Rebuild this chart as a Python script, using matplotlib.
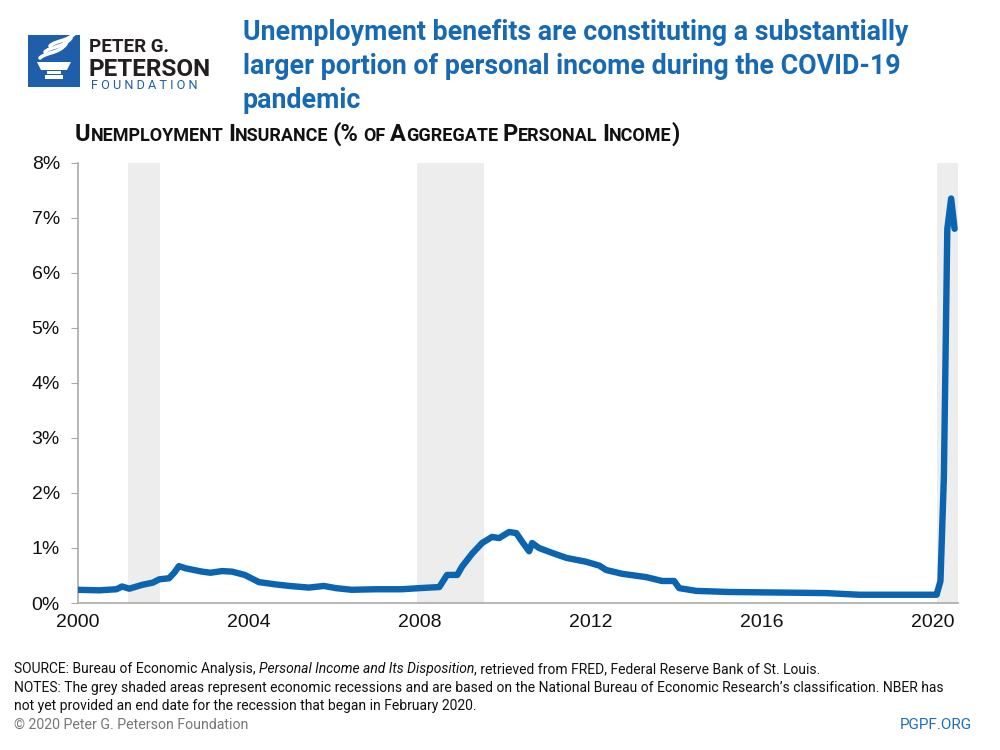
import numpy as np
import matplotlib.pyplot as plt
from matplotlib.patches import Rectangle, Polygon, PathPatch
from matplotlib.path import Path

# Unemployment insurance as % of aggregate personal income
years = [2000.0, 2000.5, 2000.9, 2001.03, 2001.2, 2001.5, 2001.75, 2001.9,
         2002.13, 2002.25, 2002.36, 2002.52, 2002.9, 2003.1, 2003.37, 2003.6,
         2003.9, 2004.23, 2004.6, 2004.94, 2005.4, 2005.75, 2006.03, 2006.4,
         2006.97, 2007.58, 2007.98, 2008.45, 2008.63, 2008.87, 2008.98, 2009.22,
         2009.45, 2009.68, 2009.85, 2010.08, 2010.25, 2010.39, 2010.55, 2010.62,
         2010.78, 2011.09, 2011.42, 2011.88, 2012.19, 2012.35, 2012.73, 2013.29,
         2013.66, 2013.94, 2014.06, 2014.46, 2015.23, 2016.4, 2017.5, 2018.27,
         2019.04, 2020.0, 2020.08, 2020.17, 2020.25, 2020.33, 2020.42, 2020.5]
ui_share = [0.24, 0.23, 0.25, 0.30, 0.26, 0.33, 0.37, 0.43,
            0.45, 0.55, 0.67, 0.63, 0.57, 0.55, 0.58, 0.57,
            0.51, 0.38, 0.34, 0.31, 0.28, 0.31, 0.27, 0.24,
            0.25, 0.25, 0.27, 0.29, 0.51, 0.51, 0.66, 0.90,
            1.09, 1.20, 1.18, 1.29, 1.27, 1.11, 0.94, 1.09,
            1.00, 0.91, 0.82, 0.75, 0.68, 0.60, 0.53, 0.47,
            0.40, 0.40, 0.27, 0.22, 0.20, 0.19, 0.18, 0.15,
            0.15, 0.15, 0.15, 0.40, 2.30, 6.80, 7.35, 6.80]

recession_starts = [2001.17, 2007.92, 2020.08]
recession_ends = [2001.92, 2009.50, 2020.60]

x_ticks = [2000, 2004, 2008, 2012, 2016, 2020]
y_ticks = [0, 1, 2, 3, 4, 5, 6, 7, 8]

title_lines = ["Unemployment benefits are constituting a substantially",
               "larger portion of personal income during the COVID-19",
               "pandemic"]
subtitle = "Unemployment Insurance (% of Aggregate Personal Income)"

BLUE = '#0b64b0'
TITLE_BLUE = '#1769b3'
LOGO_BLUE = '#1f5fa9'

fig = plt.figure(figsize=(10, 7.5), dpi=100)
renderer = fig.canvas.get_renderer()

# overlay in pixel coordinates for logo and texts
deco = fig.add_axes([0, 0, 1, 1])
deco.set_xlim(0, 1000)
deco.set_ylim(750, 0)
deco.axis('off')

# logo
deco.add_patch(Rectangle((28, 35), 52, 52, color=LOGO_BLUE, lw=0))
deco.add_patch(Polygon([(37, 62), (71, 62), (67, 70), (41, 70)], color='white', lw=0))
deco.add_patch(Rectangle((47, 71), 14, 3, color='white', lw=0))
deco.add_patch(Rectangle((45, 75), 18, 4, color='white', lw=0))
for dx, dy in [(0, 0), (5, -6), (10, -12)]:
    verts = [(40 + dx, 58 + dy), (46 + dx, 52 + dy), (58 + dx, 54 + dy), (66 + dx, 44 + dy)]
    deco.add_patch(PathPatch(Path(verts, [Path.MOVETO, Path.CURVE4, Path.CURVE4, Path.CURVE4]),
                             fill=False, ec='white', lw=2.6, capstyle='round'))
deco.text(89, 52, "PETER G.", fontsize=13.5, fontweight='bold', family='Roboto',
          color='#231f20', va='baseline')
deco.text(88, 76, "PETERSON", fontsize=17.5, fontweight='bold', family='Roboto',
          color='#231f20', va='baseline')
deco.text(91, 89, "F O U N D A T I O N", fontsize=9.2, family='Roboto',
          color=LOGO_BLUE, va='baseline')

# title
for i, line in enumerate(title_lines):
    deco.text(243, 40 + 34 * i, line, fontsize=19.3, fontweight='bold',
              family='Roboto', color=TITLE_BLUE, va='baseline')

# subtitle in small caps
x = 75
for word in subtitle.split(' '):
    runs = []
    for ch in word:
        small = ch.islower()
        if runs and runs[-1][1] == small:
            runs[-1][0] += ch
        else:
            runs.append([ch, small])
    for chunk, small in runs:
        t = deco.text(x, 141, chunk.upper(), fontsize=13 if small else 17,
                      fontweight='bold', family='Roboto', color='#111111', va='baseline')
        x += t.get_window_extent(renderer).width
    x += 4.5

# chart
ax = fig.add_axes([0.078, 0.196, 0.88, 0.587])
for a, b in zip(recession_starts, recession_ends):
    ax.axvspan(a, b, color='#ededed', lw=0, zorder=0)
ax.plot(years, ui_share, color=BLUE, lw=4.6, solid_joinstyle='round',
        solid_capstyle='round', zorder=3)

ax.set_xlim(2000, 2020.58)
ax.set_ylim(0, 8)
ax.set_xticks(x_ticks)
ax.set_xticklabels([str(v) for v in x_ticks])
ax.set_yticks(y_ticks)
ax.set_yticklabels([f'{v}%' for v in y_ticks])
ax.tick_params(axis='x', length=0, pad=8, labelsize=14, labelcolor='#111111')
ax.tick_params(axis='y', length=5, color='#aaaaaa', pad=8, labelsize=14,
               labelcolor='#111111')
for lab in ax.get_xticklabels() + ax.get_yticklabels():
    lab.set_family('Liberation Sans')
for s in ['top', 'right']:
    ax.spines[s].set_visible(False)
for s in ['left', 'bottom']:
    ax.spines[s].set_color('#aaaaaa')
    ax.spines[s].set_linewidth(1.2)

# footer
FOOT = dict(fontsize=10.0, family='Roboto', color='#111111', va='baseline')
footer = [
    ("SOURCE: Bureau of Economic Analysis,", 'normal'),
    ("Personal Income and Its Disposition", 'italic'),
    (", retrieved from FRED, Federal Reserve Bank of St. Louis.", 'normal'),
]
x = 14
for txt, style in footer:
    t = deco.text(x, 673, txt, style=style, **FOOT)
    x += t.get_window_extent(renderer).width
    if txt.endswith(','):
        x += 3.5
deco.text(14, 692, "NOTES: The grey shaded areas represent economic recessions and are based on "
          "the National Bureau of Economic Research\u2019s classification. NBER has", **FOOT)
deco.text(14, 710, "not yet provided an end date for the recession that began in February 2020.",
          **FOOT)
deco.text(14, 729, "\u00a9 2020 Peter G. Peterson Foundation", fontsize=10.2,
          family='Roboto', color='#777777', va='baseline')
deco.text(972, 729, "PGPF.ORG", fontsize=11, family='Roboto', color='#1f6fb8',
          va='baseline', ha='right')

fig.savefig('out.png', dpi=100)
